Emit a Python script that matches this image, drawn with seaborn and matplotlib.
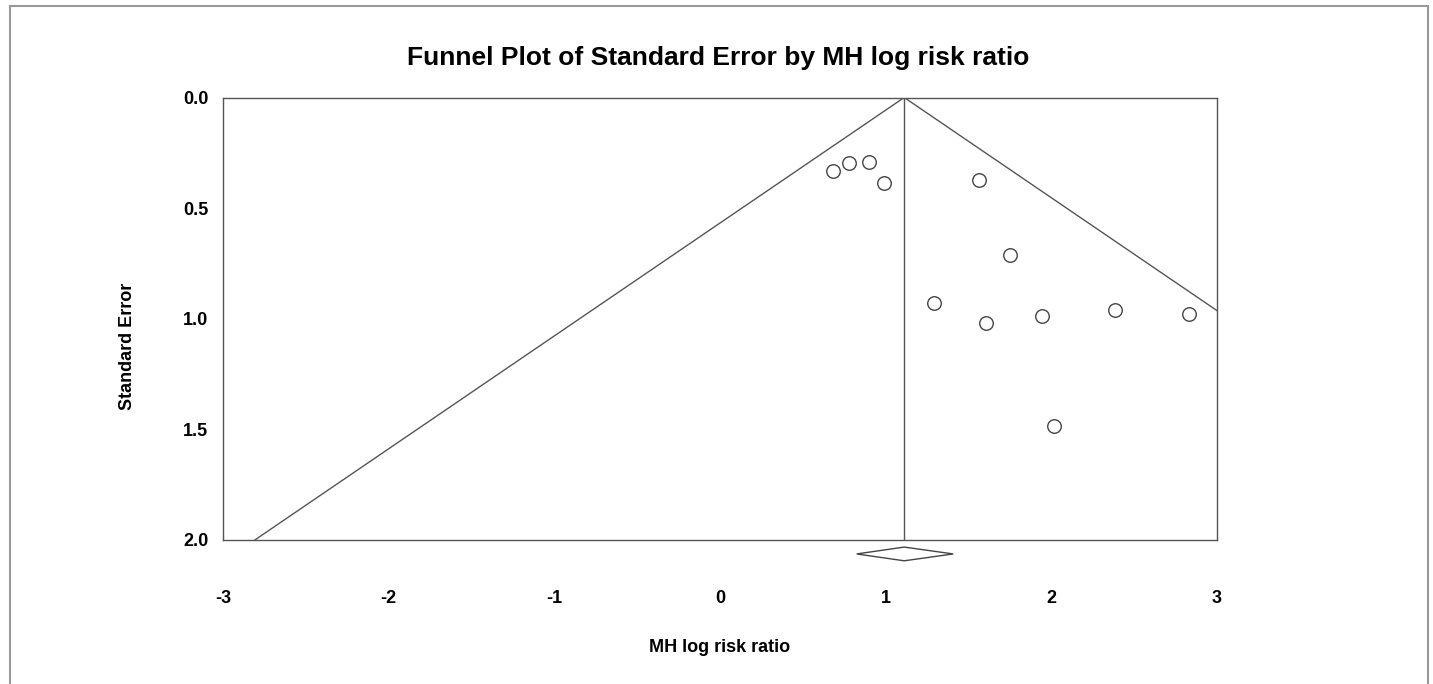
import matplotlib
matplotlib.use("Agg")
import matplotlib.pyplot as plt
from matplotlib.patches import Polygon, Rectangle
import seaborn as sns
import pandas as pd
import numpy as np

# Study data (log risk ratio, standard error)
log_rr = [0.68, 0.776, 0.899, 0.99, 1.565, 1.748, 1.293, 1.605, 1.943, 2.386, 2.829, 2.016]
std_err = [0.332, 0.295, 0.292, 0.385, 0.371, 0.710, 0.927, 1.019, 0.988, 0.960, 0.979, 1.486]

# Pooled estimate and its confidence interval
pooled = 1.112
ci_low = 0.825
ci_high = 1.408

x_ticks = [-3, -2, -1, 0, 1, 2, 3]
y_ticks = [0.0, 0.5, 1.0, 1.5, 2.0]
y_tick_labels = ["0.0", "0.5", "1.0", "1.5", "2.0"]

sns.set_theme(style="white")
plt.rcParams['font.family'] = ['Liberation Sans', 'DejaVu Sans']
plt.rcParams['text.color'] = 'black'
plt.rcParams['xtick.color'] = 'black'
plt.rcParams['ytick.color'] = 'black'

fig = plt.figure(figsize=(14.33, 6.84), dpi=100)
ax = fig.add_axes([223/1433, 1 - 540/684, (1217-223)/1433, (540-97.5)/684])

line_col = "#555555"
df = pd.DataFrame({"lrr": log_rr, "se": std_err})

ax.set_xlim(-3, 3)
ax.set_ylim(2, 0)

# funnel lines (95% pseudo-confidence limits)
se_max = 2.0
ax.plot([pooled - 1.96 * se_max, pooled, pooled + 1.96 * se_max], [se_max, 0, se_max],
        color=line_col, lw=1.0, zorder=2)
ax.plot([pooled, pooled], [0, 2], color=line_col, lw=1.0, zorder=2)

sns.scatterplot(data=df, x="lrr", y="se", ax=ax, marker="o", s=95,
                facecolor="white", edgecolor="#444444", linewidth=1.0, zorder=3)

# diamond for pooled estimate below axis
dy = 2.063
dh = 0.031
diamond = Polygon([[ci_low, dy], [pooled, dy - dh], [ci_high, dy], [pooled, dy + dh]],
                  closed=True, facecolor="white", edgecolor="#444444", lw=1.0,
                  clip_on=False, zorder=4)
ax.add_patch(diamond)

for s in ax.spines.values():
    s.set_color(line_col)
    s.set_linewidth(1.0)

ax.set_xticks(x_ticks)
ax.set_xticklabels([str(t) for t in x_ticks], fontsize=13, fontweight="bold", color="black")
ax.set_yticks(y_ticks)
ax.set_yticklabels(y_tick_labels, fontsize=13, fontweight="bold", color="black")
ax.tick_params(axis="x", direction="inout", length=6, width=1, color=line_col, pad=33)
ax.tick_params(axis="y", direction="out", length=3, width=1, color=line_col, pad=7.5)
ax.set_xlabel("")
ax.set_ylabel("")

fig.text(127/1433, 1 - 346/684, "Standard Error", rotation=90, ha="center", va="center",
         fontsize=13, fontweight="bold", color="black")
fig.text(720/1433, 1 - 648/684, "MH log risk ratio", ha="center", va="center",
         fontsize=13, fontweight="bold", color="black")
fig.text(718/1433, 1 - 58/684, "Funnel Plot of Standard Error by MH log risk ratio",
         ha="center", va="center", fontsize=19, fontweight="bold", color="black")

# figure border
fig.patches.append(Rectangle((10/1433, -0.02), (1428-10)/1433, 1.02 - 6/684,
                             transform=fig.transFigure, fill=False,
                             edgecolor="#999999", lw=1.5))

fig.savefig("out.png", dpi=100)
